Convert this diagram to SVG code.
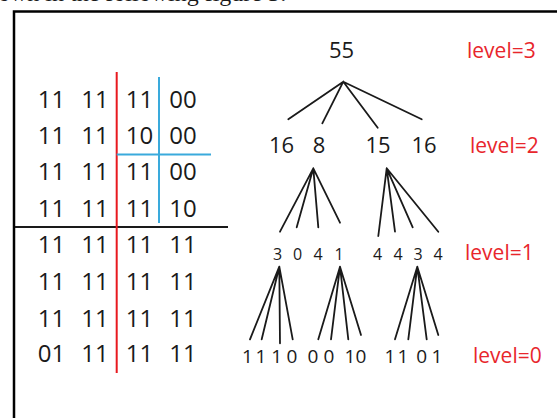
<svg xmlns="http://www.w3.org/2000/svg" width="557" height="418" viewBox="0 0 557 418">
<style>
text{font-family:"Open Sans","Liberation Sans",sans-serif;fill:#1a1a1a;text-anchor:middle}
.cap{font-family:"Liberation Serif",serif;font-size:24px;text-anchor:start}
.m{font-size:24px}
.t2{font-size:22px}
.t1{font-size:16px}
.t0{font-size:19px}
.lvl{font-size:21px;fill:#e8262c;text-anchor:start}
.ln{stroke:#1a1a1a;stroke-width:1.8;fill:none;stroke-linecap:round}
</style>
<text class="cap" x="-2" y="1">own in the following figure 3:</text>
<g id="frame"><path d="M14 418 V11.5 H557" fill="none" stroke="#000" stroke-width="2.5"/></g>
<g id="matrix">
<text class="m" y="108" x="51.5">11<tspan x="95">11</tspan><tspan x="139.5">11</tspan><tspan x="183">00</tspan></text>
<text class="m" y="143.5" x="51.5">11<tspan x="95">11</tspan><tspan x="139.5">10</tspan><tspan x="183">00</tspan></text>
<text class="m" y="180" x="51.5">11<tspan x="95">11</tspan><tspan x="139.5">11</tspan><tspan x="183">00</tspan></text>
<text class="m" y="217" x="51.5">11<tspan x="95">11</tspan><tspan x="139.5">11</tspan><tspan x="183">10</tspan></text>
<text class="m" y="253" x="51.5">11<tspan x="95">11</tspan><tspan x="139.5">11</tspan><tspan x="183">11</tspan></text>
<text class="m" y="290" x="51.5">11<tspan x="95">11</tspan><tspan x="139.5">11</tspan><tspan x="183">11</tspan></text>
<text class="m" y="326.5" x="51.5">11<tspan x="95">11</tspan><tspan x="139.5">11</tspan><tspan x="183">11</tspan></text>
<text class="m" y="362" x="51.5">01<tspan x="95">11</tspan><tspan x="139.5">11</tspan><tspan x="183">11</tspan></text>
<line x1="15" y1="227" x2="228" y2="227" stroke="#1a1a1a" stroke-width="2"/>
<line x1="116.7" y1="72" x2="116.7" y2="373" stroke="#e8191f" stroke-width="2"/>
<line x1="159" y1="77" x2="159" y2="223" stroke="#3aaadc" stroke-width="2"/>
<line x1="116.7" y1="154.5" x2="211" y2="154.5" stroke="#3aaadc" stroke-width="2"/>
</g>
<g id="n55"><text class="t2" x="341.5" y="58">55</text></g>
<g id="n16a"><text class="t2" x="281.5" y="152.7">16</text></g>
<g id="n8"><text class="t2" x="319" y="152.7">8</text></g>
<g id="n15"><text class="t2" x="378" y="152.7">15</text></g>
<g id="n16b"><text class="t2" x="424" y="152.7">16</text></g>
<g id="l1a"><text class="t1" y="260" x="277.7 297.7 318 339">3041</text></g>
<g id="l1b"><text class="t1" y="260" x="377.7 398 418 438">4434</text></g>
<g id="l0a"><text class="t0" y="363.3" x="247.5 261 276.7 292">1110</text></g>
<g id="l0b"><text class="t0" y="363.3" x="313 329">00</text></g>
<g id="l0c"><text class="t0" y="363.3" x="350 361">10</text></g>
<g id="l0d"><text class="t0" y="363.3" x="390 403 421.7 437">1101</text></g>
<g id="levels">
<text class="lvl" x="467" y="58">level=3</text>
<text class="lvl" x="470" y="152.7">level=2</text>
<text class="lvl" x="465" y="260">level=1</text>
<text class="lvl" x="473" y="363.3">level=0</text>
</g>
<g id="connectors" class="ln">
<path d="M343.3 81.7L288.3 119.3M343.3 81.7L322.3 123.3M343.3 81.7L377.7 127.7M343.3 81.7L421.7 119.3"/>
<path d="M313.3 168.3L280 231.7M313.3 168.3L296.7 227.3M313.3 168.3L318.3 227.3M313.3 168.3L340 222.7"/>
<path d="M386.7 168.3L378.3 236M386.7 168.3L395 231.7M386.7 168.3L412.7 227.3M386.7 168.3L438.3 231.7"/>
<path d="M279.3 266.7L250 339.3M279.3 266.7L261.7 339.3M279.3 266.7L280 343.3M279.3 266.7L292.7 339.3"/>
<path d="M340 266.7L318.3 339.3M340 266.7L331 339.3M340 266.7L348.3 339.3M340 266.7L361 335"/>
<path d="M417.3 266.7L395 339.3M417.3 266.7L408.3 339.3M417.3 266.7L426.7 339.3M417.3 266.7L438.3 335"/>
</g>
</svg>
